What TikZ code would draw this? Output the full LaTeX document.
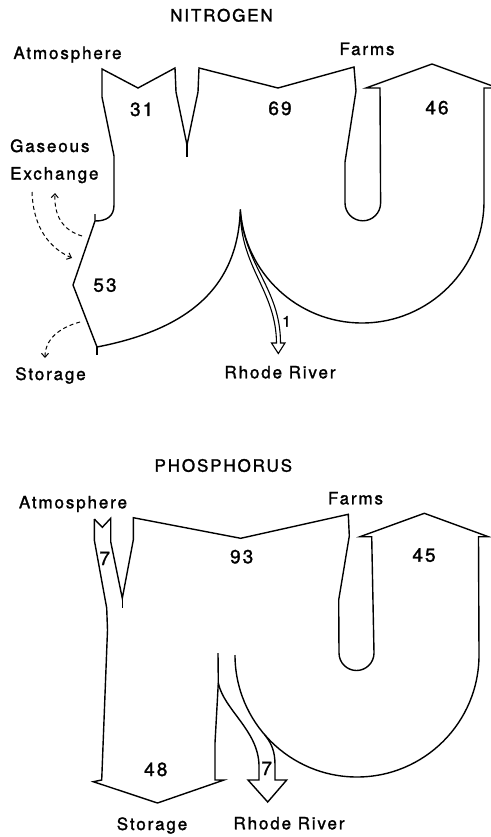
\documentclass[tikz,border=0pt]{standalone}
\usepackage{fontspec}
\setmainfont{TeX Gyre Heros}[LetterSpace=11,FakeBold=1.6]
\usetikzlibrary{arrows.meta}
\begin{document}
\begin{tikzpicture}[x=1pt,y=-1pt,
  outline/.style={line width=1.4pt,line join=miter,line cap=butt},
  gasflow/.style={line width=1pt,dash pattern=on 4pt off 3pt,-{Straight Barb[length=4pt,width=7pt,line width=1pt]}},
  lbl/.style={inner sep=0pt,anchor=base,font=\fontsize{17}{20}\selectfont},
  num/.style={inner sep=0pt,anchor=base,font=\fontsize{19}{22}\selectfont},
  smallnum/.style={inner sep=0pt,anchor=base,font=\fontsize{15}{18}\selectfont}]
\useasboundingbox (0,0) rectangle (490,837);

% ---------------- NITROGEN ----------------
\node[lbl] (ntitle) at (221.5,21.5) {NITROGEN};
\node[lbl] (natm) at (67.5,59) {Atmosphere};
\node[lbl] (nfarms) at (367,55) {Farms};
\node[lbl,anchor=base west] (ngas1) at (10,152) {Gaseous};
\node[lbl,anchor=base west] (ngas2) at (10,179.5) {Exchange};
\node[lbl] (nstor) at (50.5,380) {Storage};
\node[lbl] (nriver) at (280,378.3) {Rhode River};
\node[num] (n31) at (141.7,116) {31};
\node[num] (n69) at (280,115) {69};
\node[num] (n46) at (437,114.3) {46};
\node[num] (n53) at (105,291.7) {53};
\node[smallnum] (n1) at (286.5,326.7) {1};

\coordinate (ncusp) at (240.3,209.5);
\draw[outline] (95,214) -- (95,221) .. controls (106,221) and (114,217) .. (114,205)
  -- (114,156) -- (102,97) -- (102,69) -- (138,88) -- (175,68) -- (176,92)
  -- (187,145) -- (198,92) -- (199,68) -- (278,88) -- (354,67) -- (356,91)
  -- (345,162) -- (345,203) arc[start angle=180,end angle=0,radius=17.8]
  -- (380,88) -- (366,88) -- (432,64) -- (498,88) -- (484,88) -- (484,201)
  arc[start angle=0,end angle=176,radius=122]
  .. controls (238,290) and (185,330) .. (97,347) -- (73,285) -- (95,221);
\draw[outline] (187,145) -- (187,157);
\draw[outline] (97,347) -- (97,355);
% Rhode River arrow (1)
\draw[outline,line width=1.1pt] (ncusp) .. controls (240,268) and (276,290) .. (276.5,343)
  -- (271.5,343) -- (278.3,353.5) -- (285,343) -- (280.5,343)
  .. controls (280.5,288) and (244,266) .. (ncusp);
% gaseous exchange and storage
\draw[gasflow] (32,192) .. controls (33,222) and (45,246) .. (72,258);
\draw[gasflow] (82,236) .. controls (62,230) and (54,215) .. (55,193);
\draw[gasflow] (80,322) .. controls (58,328) and (45,340) .. (45,358);

% ---------------- PHOSPHORUS ----------------
\node[lbl] (ptitle) at (223.3,471.7) {PHOSPHORUS};
\node[lbl] (patm) at (73,508.3) {Atmosphere};
\node[lbl] (pfarms) at (355.5,504.3) {Farms};
\node[lbl] (pstor) at (152,830) {Storage};
\node[lbl] (priver) at (289,829.3) {Rhode River};
\node[num] (p7) at (104.7,565) {7};
\node[num] (p93) at (241.7,563.3) {93};
\node[num] (p45) at (424,561.7) {45};
\node[num] (p48) at (155.8,776) {48};
\node[num] (p7r) at (266.7,775) {7};

\draw[outline] (94.3,519) -- (102.3,527.3) -- (110.7,518.3) -- (110.7,541.7)
  -- (122.3,598.3) -- (133.3,540) -- (133.3,517.7) -- (240.7,538.3)
  -- (348.3,514.3) -- (349.3,536) -- (338.7,600) -- (339,653)
  arc[start angle=180,end angle=0,radius=17.5]
  -- (371.7,536.7) -- (360,536.7) -- (424.3,513.3) -- (488.3,536.7)
  -- (478.5,536.7) -- (479,655) arc[start angle=0,end angle=180,radius=122];
\draw[outline] (122.3,598.3) -- (122.3,608);
\draw[outline] (94.3,519) -- (94.3,540) -- (106.7,608) -- (107.5,630)
  -- (101.7,780) -- (93.3,781.7) -- (157.5,803) -- (224,780) -- (215,780)
  -- (215,743) -- (218.3,683) -- (218,653);
\coordinate (pbranch) at (218.3,683);
\coordinate (parc) at (264.9,735);
\draw[outline] (pbranch) .. controls (224,710) and (258,730) .. (259,765) -- (259,780)
  -- (248,780) -- (267.7,802) -- (286.7,780) -- (275,780) -- (275,765)
  .. controls (275,752) and (272,744) .. (parc);
\end{tikzpicture}
\end{document}
